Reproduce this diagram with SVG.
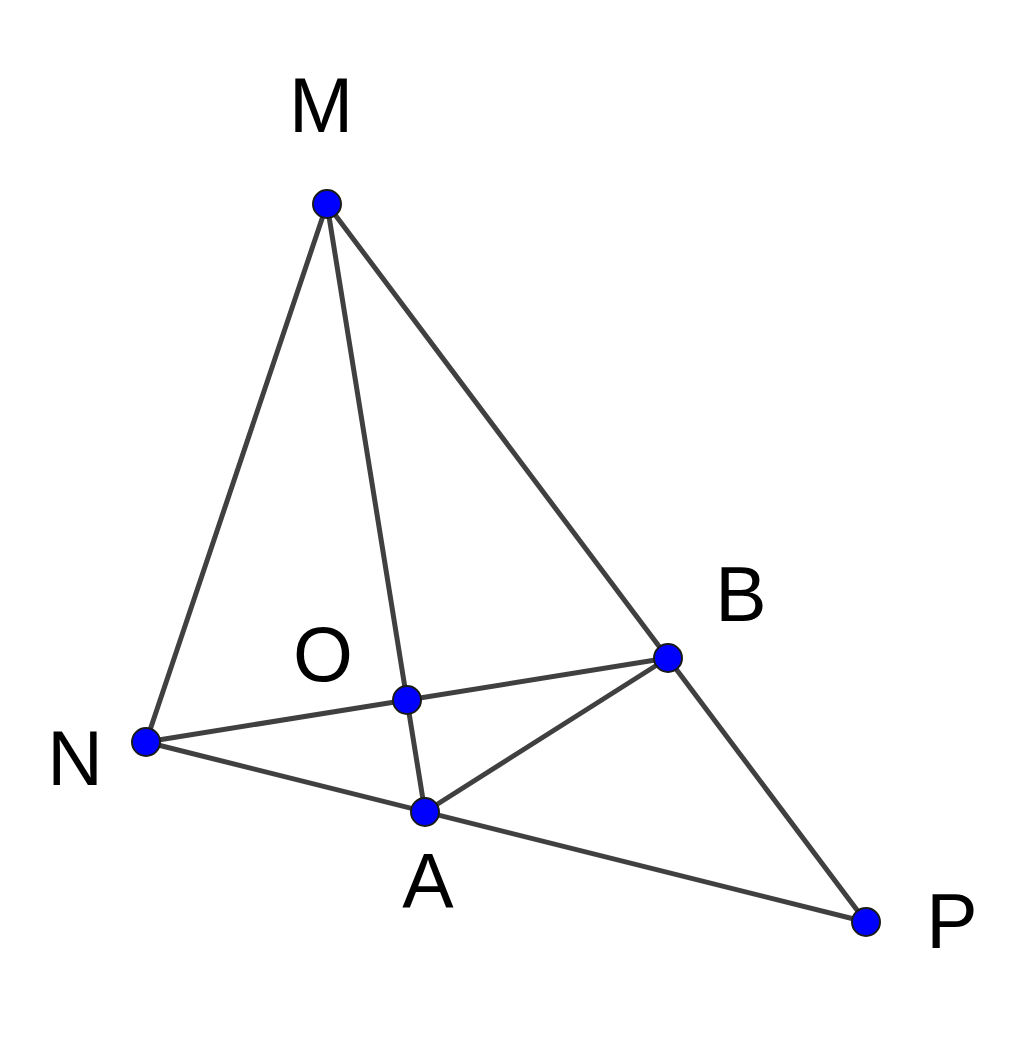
<svg xmlns="http://www.w3.org/2000/svg" width="1024" height="1056" viewBox="0 0 1024 1056">
<style>
.ln{stroke:#404040;stroke-width:5;stroke-linecap:round;fill:none}
.pt{fill:#0000ff;stroke:#1a1a1a;stroke-width:2}
.lb{font-family:"Liberation Sans",Arial,sans-serif;font-size:77px;fill:#000;text-anchor:middle}
</style>
<rect width="1024" height="1056" fill="#fff"/>
<g id="connectors">
<line class="ln" x1="327" y1="204" x2="146" y2="742"/>
<line class="ln" x1="327" y1="204" x2="866" y2="922"/>
<line class="ln" x1="327" y1="204" x2="425" y2="812"/>
<line class="ln" x1="146" y1="742" x2="668" y2="658"/>
<line class="ln" x1="146" y1="742" x2="866" y2="922"/>
<line class="ln" x1="425" y1="812" x2="668" y2="658"/>
</g>
<g id="M"><circle class="pt" cx="327" cy="204" r="14"/><text class="lb" x="321" y="132">M</text></g>
<g id="N"><circle class="pt" cx="146" cy="742" r="14"/><text class="lb" x="75" y="785">N</text></g>
<g id="O"><circle class="pt" cx="407" cy="700" r="14"/><text class="lb" x="323" y="681">O</text></g>
<g id="B"><circle class="pt" cx="668" cy="658" r="14"/><text class="lb" x="741" y="621">B</text></g>
<g id="A"><circle class="pt" cx="425" cy="812" r="14"/><text class="lb" x="428" y="908">A</text></g>
<g id="P"><circle class="pt" cx="866" cy="922" r="14"/><text class="lb" x="952" y="948">P</text></g>
</svg>
